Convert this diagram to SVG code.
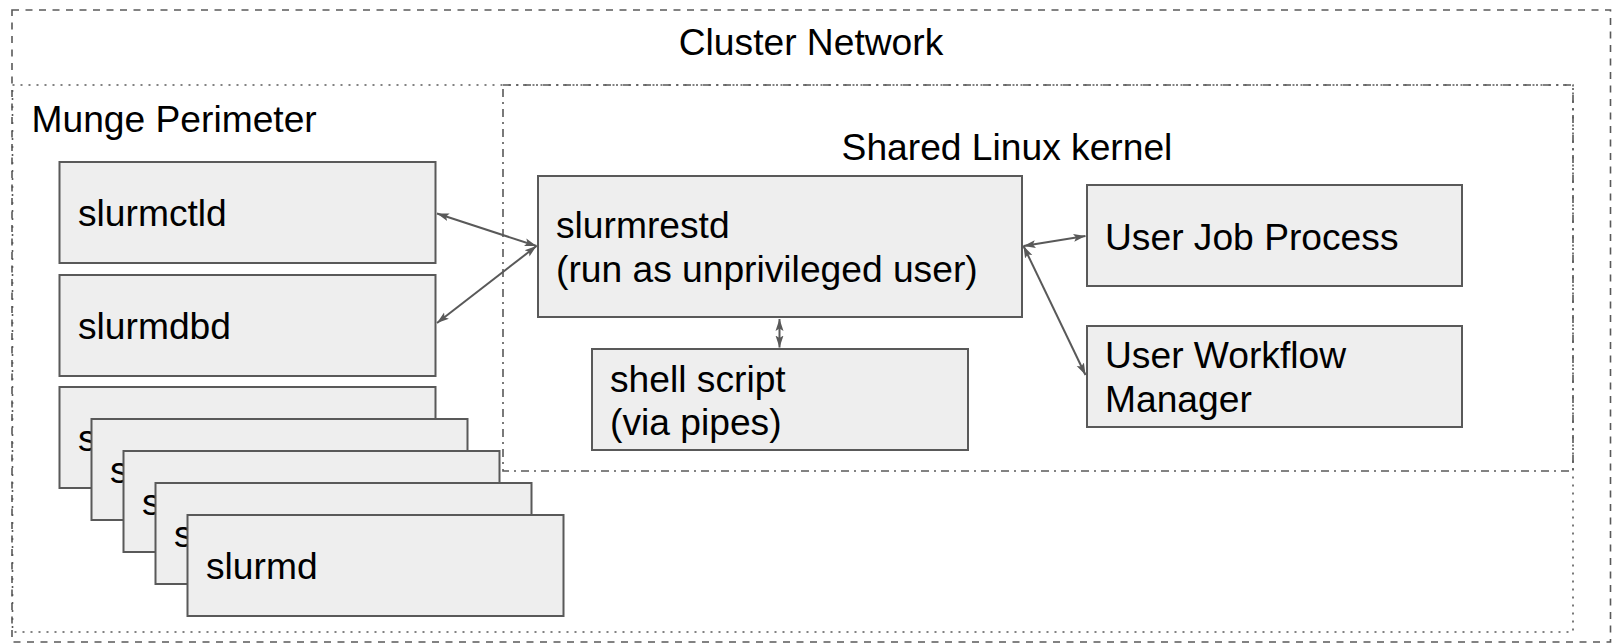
<svg xmlns="http://www.w3.org/2000/svg" width="1612" height="643" viewBox="0 0 1612 643">
<style>
.t{font-family:"Liberation Sans",Arial,sans-serif;font-size:37.2px;fill:#000}
.box{fill:#eeeeee;stroke:#595959;stroke-width:2}
.cont{fill:none;stroke:#595959;stroke-width:1.6}
.con{fill:none;stroke:#595959;stroke-width:2;marker-start:url(#ah);marker-end:url(#ah)}
</style>
<defs>
<marker id="ah" markerUnits="userSpaceOnUse" markerWidth="14" markerHeight="10" refX="12" refY="4" orient="auto-start-reverse" viewBox="0 0 14 8">
<path d="M0,0 L12,4 L0,8 L2.5,4 Z" fill="#595959"/>
</marker>
</defs>
<g id="cluster-network">
<rect class="cont" x="12" y="10" width="1598.5" height="632" stroke-dasharray="7,6.5"/>
<text class="t" x="811" y="55" text-anchor="middle">Cluster Network</text>
</g>
<g id="munge-perimeter">
<rect class="cont" x="12.5" y="85" width="1560.5" height="547" stroke-dasharray="2,6"/>
<text class="t" x="31.5" y="131.5">Munge Perimeter</text>
</g>
<g id="shared-linux-kernel">
<rect class="cont" x="503" y="85" width="1070" height="386" stroke-dasharray="8,5,2,5"/>
<text class="t" x="1007" y="160" text-anchor="middle">Shared Linux kernel</text>
</g>
<g id="slurmctld">
<rect class="box" x="59.5" y="162" width="376" height="101"/>
<text class="t" x="78" y="226">slurmctld</text>
</g>
<g id="slurmdbd">
<rect class="box" x="59.5" y="275" width="376" height="101"/>
<text class="t" x="78" y="339">slurmdbd</text>
</g>
<g id="slurmd-1">
<rect class="box" x="59.5" y="387" width="376" height="101"/>
<text class="t" x="78" y="451">s</text>
</g>
<g id="slurmd-2">
<rect class="box" x="91.5" y="419" width="376" height="101"/>
<text class="t" x="110" y="483">s</text>
</g>
<g id="slurmd-3">
<rect class="box" x="123.5" y="451" width="376" height="101"/>
<text class="t" x="142" y="515">s</text>
</g>
<g id="slurmd-4">
<rect class="box" x="155.5" y="483" width="376" height="101"/>
<text class="t" x="174" y="547">s</text>
</g>
<g id="slurmd-5">
<rect class="box" x="187.5" y="515" width="376" height="101"/>
<text class="t" x="206" y="579">slurmd</text>
</g>
<g id="slurmrestd">
<rect class="box" x="538" y="176" width="484" height="141"/>
<text class="t" x="556" y="238">slurmrestd</text>
<text class="t" x="556" y="282">(run as unprivileged user)</text>
</g>
<g id="shell-script">
<rect class="box" x="592" y="349" width="376" height="101"/>
<text class="t" x="610" y="392">shell script</text>
<text class="t" x="610" y="435">(via pipes)</text>
</g>
<g id="user-job-process">
<rect class="box" x="1087" y="185" width="375" height="101"/>
<text class="t" x="1105" y="250">User Job Process</text>
</g>
<g id="user-workflow-manager">
<rect class="box" x="1087" y="326" width="375" height="101"/>
<text class="t" x="1105" y="368">User Workflow</text>
<text class="t" x="1105" y="412">Manager</text>
</g>
<g id="connectors">
<line class="con" x1="437" y1="213.5" x2="536.5" y2="246"/>
<line class="con" x1="437" y1="323" x2="536.5" y2="246"/>
<line class="con" x1="779.5" y1="319" x2="779.5" y2="347.5"/>
<line class="con" x1="1023.5" y1="246" x2="1085.5" y2="236"/>
<line class="con" x1="1023.5" y1="246" x2="1085.5" y2="375"/>
</g>
</svg>
